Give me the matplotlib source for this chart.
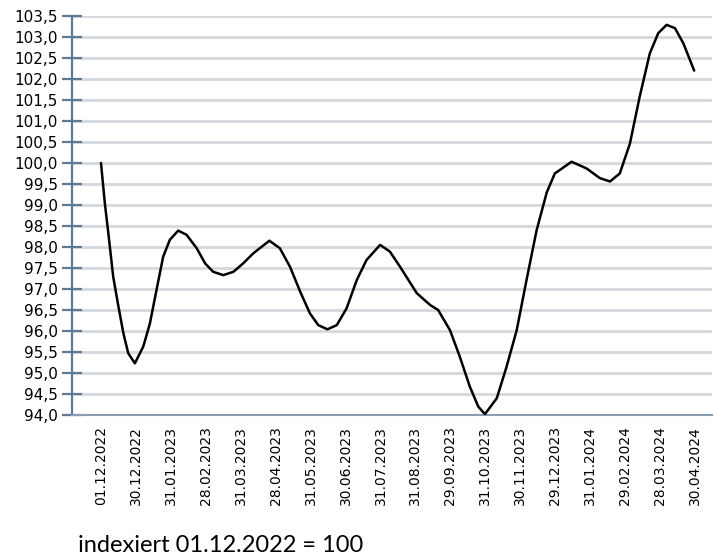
import matplotlib
matplotlib.use('Agg')
import matplotlib.pyplot as plt
import numpy as np

# month labels on the x axis (evenly spaced categories)
date_labels = ['01.12.2022', '30.12.2022', '31.01.2023', '28.02.2023', '31.03.2023',
               '28.04.2023', '31.05.2023', '30.06.2023', '31.07.2023', '31.08.2023',
               '29.09.2023', '31.10.2023', '30.11.2023', '29.12.2023', '31.01.2024',
               '29.02.2024', '28.03.2024', '30.04.2024']

# position of the reading, in months since 01.12.2022
months = [0.00, 0.11, 0.21, 0.35, 0.50, 0.64, 0.78, 0.97, 1.21, 1.40, 1.59, 1.78,
          1.97, 2.21, 2.45, 2.74, 2.98, 3.21, 3.50, 3.79, 4.07, 4.36, 4.82, 5.12,
          5.41, 5.70, 5.98, 6.22, 6.48, 6.75, 7.03, 7.32, 7.60, 7.99, 8.27, 8.56,
          9.04, 9.42, 9.65, 9.99, 10.27, 10.56, 10.80, 10.99, 11.33, 11.61, 11.90,
          12.18, 12.47, 12.76, 12.99, 13.47, 13.90, 14.28, 14.57, 14.85, 15.14,
          15.42, 15.71, 15.95, 16.19, 16.43, 16.67, 16.98]

# index values (01.12.2022 = 100)
index_vals = [100.00, 99.04, 98.33, 97.29, 96.58, 95.95, 95.47, 95.23, 95.63, 96.18,
              96.98, 97.77, 98.17, 98.39, 98.29, 97.97, 97.61, 97.41, 97.33, 97.41,
              97.61, 97.85, 98.15, 97.97, 97.53, 96.94, 96.42, 96.14, 96.04, 96.14,
              96.54, 97.21, 97.69, 98.05, 97.89, 97.53, 96.90, 96.62, 96.50, 96.02,
              95.39, 94.67, 94.20, 94.02, 94.40, 95.15, 96.02, 97.21, 98.40, 99.30,
              99.75, 100.03, 99.87, 99.64, 99.56, 99.75, 100.46, 101.58, 102.61,
              103.09, 103.29, 103.21, 102.85, 102.20]

y_ticks = np.arange(94.0, 103.51, 0.5)

fig = plt.figure(figsize=(7.18, 5.59), dpi=100)
ax = fig.add_axes([72/718, 1-415/559, 640/718, 399/559])

for y in y_ticks[1:]:
    ax.axhline(y, color='#d3d8de', lw=2, zorder=0)

ax.plot(months, index_vals, color='black', lw=1.8, zorder=3,
        solid_joinstyle='round', solid_capstyle='round')

ax.set_ylim(94.0, 103.5)
ax.set_xlim(-0.83, 17.49)
ax.set_yticks(y_ticks)
ax.set_yticklabels(['{:.1f}'.format(v).replace('.', ',') for v in y_ticks], fontsize=11)
ax.set_xticks(range(len(date_labels)))
ax.set_xticklabels(date_labels, rotation=90, fontsize=10)

axis_col = '#5f7a96'
for s in ['top', 'right']:
    ax.spines[s].set_visible(False)
ax.spines['left'].set_color(axis_col)
ax.spines['left'].set_linewidth(1.6)
ax.spines['bottom'].set_color('#8a9db3')
ax.spines['bottom'].set_linewidth(1.5)
ax.tick_params(axis='y', direction='inout', length=14.4, width=1.6, color=axis_col, pad=3)
ax.tick_params(axis='x', length=0, pad=8)

fig.text(78/718, 1-545/559, 'indexiert 01.12.2022 = 100', fontsize=17,
         family='Lato', va='center', ha='left')

plt.savefig('out.png', dpi=100)
